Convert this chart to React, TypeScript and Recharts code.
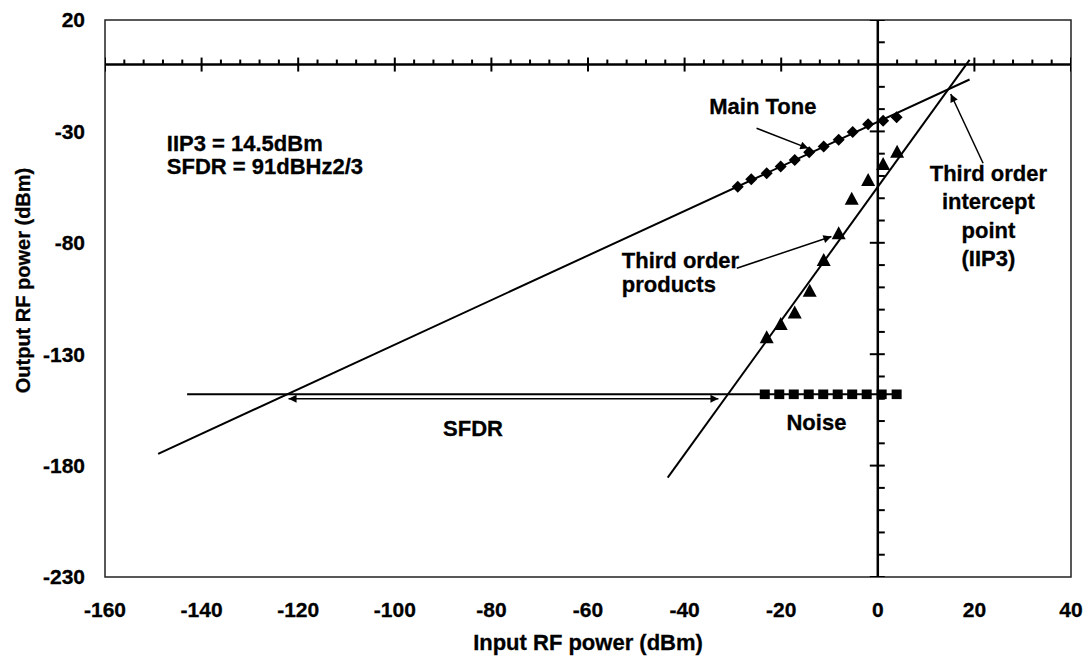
import React from "react";
import {
  ComposedChart,
  Line,
  ReferenceArea,
  ReferenceDot,
  ReferenceLine,
  Scatter,
  XAxis,
  YAxis,
} from "recharts";

const FONT = "'Liberation Sans', Arial, Helvetica, sans-serif";

// Measured two-tone test points: input power (dBm) -> output power (dBm)
const mainToneIn = [-29.0, -26.2, -23.0, -20.1, -17.2, -14.2, -11.2, -8.1, -5.2, -2.0, 1.1, 3.9];
const mainToneOut = [-54.8, -51.5, -48.8, -45.8, -42.8, -39.4, -36.8, -33.8, -30.3, -26.8, -25.2, -23.7];
const thirdOrderIn = [-23.0, -20.1, -17.2, -14.1, -11.2, -8.1, -5.4, -2.0, 1.1, 4.0];
const thirdOrderOut = [-122.4, -116.4, -111.3, -101.5, -87.7, -75.7, -60.2, -51.8, -44.6, -39.1];
const noiseIn = [-23.4, -20.4, -17.4, -14.3, -11.3, -8.3, -5.3, -2.3, 0.8, 3.9];
const noiseOut = [-148, -148, -148, -148, -148, -148, -148, -148, -148, -148];

// Fitted lines (slope 1, slope 3, flat noise floor)
const mainFitIn = [-149, 19];
const mainFitOut = [-174.7, -6.7];
const thirdFitIn = [-43.5, 19];
const thirdFitOut = [-185.4, 2.1];
const floorIn = [-143, 4];
const floorOut = [-148, -148];

// Axis ticks
const xLabelTicks = [-160, -140, -120, -100, -80, -60, -40, -20, 0, 20, 40];
const yLabelTicks = [20, -30, -80, -130, -180, -230];
const xMajorTicks = [-160, -140, -120, -100, -80, -60, -40, -20, 20, 40];
const xMinorTicks = [
  -156, -152, -148, -144, -136, -132, -128, -124, -116, -112, -108, -104, -96, -92, -88, -84,
  -76, -72, -68, -64, -56, -52, -48, -44, -36, -32, -28, -24, -16, -12, -8, -4, 4, 8, 12, 16,
  24, 28, 32, 36,
];
const yMajorTicks = [20, -30, -80, -130, -180, -230];
const yMinorTicks = [10, -10, -20, -40, -50, -60, -70, -90, -100, -110, -120, -140, -150, -160, -170, -190, -200, -210, -220];

// Annotation arrows [fromX, fromY, toX, toY]
const arrowMainTone = [-25.1, -28.6, -14.4, -37.6];
const arrowThirdOrder = [-29.2, -91.4, -9.6, -77.2];
const arrowIIP3 = [21.8, -44.3, 15.1, -13.2];
const arrowSFDR = [-122, -150, -33, -150];

type Note = { x: number; y: number; text: string; anchor: "start" | "middle" };
const notes: Note[] = [
  { x: -147.2, y: -35.3, text: "IIP3 = 14.5dBm", anchor: "start" },
  { x: -147.2, y: -45.8, text: "SFDR = 91dBHz2/3", anchor: "start" },
  { x: -23.8, y: -18.9, text: "Main Tone", anchor: "middle" },
  { x: -53, y: -87.7, text: "Third order", anchor: "start" },
  { x: -53, y: -98.6, text: "products", anchor: "start" },
  { x: 22.9, y: -48.8, text: "Third order", anchor: "middle" },
  { x: 22.9, y: -61.5, text: "intercept", anchor: "middle" },
  { x: 22.9, y: -74.3, text: "point", anchor: "middle" },
  { x: 22.9, y: -86.9, text: "(IIP3)", anchor: "middle" },
  { x: -83.8, y: -163, text: "SFDR", anchor: "middle" },
  { x: -12.7, y: -160.3, text: "Noise", anchor: "middle" },
];

const pts = (xs: number[], ys: number[]) => xs.map((x, i) => ({ x, y: ys[i] }));
const seg = (a: number[]) => [
  { x: a[0], y: a[1] },
  { x: a[2], y: a[3] },
];

const Diamond = (p: any) => {
  const { cx, cy } = p;
  const s = 6;
  return <path d={`M${cx},${cy - s}L${cx + s},${cy}L${cx},${cy + s}L${cx - s},${cy}Z`} fill="#000" />;
};
const Triangle = (p: any) => {
  const { cx, cy } = p;
  return <path d={`M${cx},${cy - 7}L${cx + 7},${cy + 6}L${cx - 7},${cy + 6}Z`} fill="#000" />;
};
const Square = (p: any) => {
  const { cx, cy } = p;
  return <rect x={cx - 5} y={cy - 4.8} width={10} height={9.6} fill="#000" />;
};
const tickShape = (up: number, down: number, horiz: boolean) => (p: any) => {
  const { cx, cy } = p;
  return horiz ? (
    <line x1={cx} y1={cy - up} x2={cx} y2={cy + down} stroke="#000" strokeWidth={2} />
  ) : (
    <line x1={cx - down} y1={cy} x2={cx + up} y2={cy} stroke="#000" strokeWidth={2} />
  );
};

const XTick = (p: any) => (
  <text
    x={p.x}
    y={p.y}
    dy="0.71em"
    textAnchor="middle"
    fontFamily={FONT}
    fontWeight="bold"
    fontSize={21}
    fill="#000"
    stroke="#000"
    strokeWidth={0.3}
  >
    {p.payload.value}
  </text>
);
const YTick = (p: any) => (
  <text
    x={p.x}
    y={p.y}
    dy="0.355em"
    textAnchor="end"
    fontFamily={FONT}
    fontWeight="bold"
    fontSize={21}
    fill="#000"
    stroke="#000"
    strokeWidth={0.3}
  >
    {p.payload.value}
  </text>
);

const textStyle = { fill: "#000", fontSize: 22, fontWeight: "bold", fontFamily: FONT, stroke: "#000", strokeWidth: 0.3 };

export default function App() {
  return (
    <div style={{ position: "absolute", left: 0, top: 0, width: 1090, height: 658, background: "#fff" }}>
      <ComposedChart width={1090} height={658} margin={{ top: 20, right: 19, bottom: 0, left: 0 }}>
        <defs>
          <marker
            id="ah"
            viewBox="0 0 10 10"
            refX="10"
            refY="5"
            markerWidth="12"
            markerHeight="8"
            markerUnits="userSpaceOnUse"
            orient="auto-start-reverse"
          >
            <path d="M0,0 L10,5 L0,10 z" fill="#000" />
          </marker>
        </defs>
        <XAxis
          type="number"
          dataKey="x"
          domain={[-160, 40]}
          ticks={xLabelTicks}
          interval={0}
          allowDataOverflow
          axisLine={false}
          tickLine={false}
          tickSize={0}
          tickMargin={25}
          height={81}
          tick={XTick}
          label={{
            value: "Input RF power (dBm)",
            position: "insideBottom",
            offset: 8,
            fill: "#000",
            fontSize: 22,
            fontWeight: "bold",
            fontFamily: FONT,
            stroke: "#000",
            strokeWidth: 0.3,
          }}
        />
        <YAxis
          type="number"
          dataKey="y"
          domain={[-230, 20]}
          ticks={yLabelTicks}
          interval={0}
          allowDataOverflow
          axisLine={false}
          tickLine={false}
          tickSize={0}
          tickMargin={20}
          width={105}
          tick={YTick}
          label={{
            value: "Output RF power (dBm)",
            angle: -90,
            position: "insideLeft",
            offset: 23,
            dy: -18,
            fill: "#000",
            fontSize: 20,
            fontWeight: "bold",
            fontFamily: FONT,
            stroke: "#000",
            strokeWidth: 0.3,
            style: { textAnchor: "middle" },
          }}
        />

        <ReferenceArea x1={-160} x2={40} y1={-230} y2={20} fill="none" fillOpacity={0} stroke="#222" strokeWidth={1.5} />
        <ReferenceLine x={0} stroke="#000" strokeWidth={2.5} />
        <ReferenceLine y={0} stroke="#000" strokeWidth={2.5} />

        <Scatter data={xMajorTicks.map((x) => ({ x, y: 0 }))} shape={tickShape(7, 7, true)} isAnimationActive={false} />
        <Scatter data={xMinorTicks.map((x) => ({ x, y: 0 }))} shape={tickShape(5, 0, true)} isAnimationActive={false} />
        <Scatter data={yMajorTicks.map((y) => ({ x: 0, y }))} shape={tickShape(7, 8, false)} isAnimationActive={false} />
        <Scatter data={yMinorTicks.map((y) => ({ x: 0, y }))} shape={tickShape(7, 0, false)} isAnimationActive={false} />

        <Line data={pts(mainFitIn, mainFitOut)} dataKey="y" type="linear" stroke="#000" strokeWidth={2} dot={false} activeDot={false} isAnimationActive={false} />
        <Line data={pts(thirdFitIn, thirdFitOut)} dataKey="y" type="linear" stroke="#000" strokeWidth={2} dot={false} activeDot={false} isAnimationActive={false} />
        <Line data={pts(floorIn, floorOut)} dataKey="y" type="linear" stroke="#000" strokeWidth={2} dot={false} activeDot={false} isAnimationActive={false} />

        <Line data={seg(arrowMainTone)} dataKey="y" type="linear" stroke="#000" strokeWidth={1.5} markerEnd="url(#ah)" dot={false} activeDot={false} isAnimationActive={false} />
        <Line data={seg(arrowThirdOrder)} dataKey="y" type="linear" stroke="#000" strokeWidth={1.5} markerEnd="url(#ah)" dot={false} activeDot={false} isAnimationActive={false} />
        <Line data={seg(arrowIIP3)} dataKey="y" type="linear" stroke="#000" strokeWidth={1.5} markerEnd="url(#ah)" dot={false} activeDot={false} isAnimationActive={false} />
        <Line data={seg(arrowSFDR)} dataKey="y" type="linear" stroke="#000" strokeWidth={1.5} markerStart="url(#ah)" markerEnd="url(#ah)" dot={false} activeDot={false} isAnimationActive={false} />

        <Scatter data={pts(mainToneIn, mainToneOut)} shape={Diamond} isAnimationActive={false} />
        <Scatter data={pts(thirdOrderIn, thirdOrderOut)} shape={Triangle} isAnimationActive={false} />
        <Scatter data={pts(noiseIn, noiseOut)} shape={Square} isAnimationActive={false} />

        {notes.map((n, i) => (
          <ReferenceDot
            key={i}
            x={n.x}
            y={n.y}
            r={0}
            fill="none"
            stroke="none"
            label={{
              value: n.text,
              position: n.anchor === "start" ? "right" : "center",
              offset: 0,
              ...textStyle,
            }}
          />
        ))}
      </ComposedChart>
    </div>
  );
}
